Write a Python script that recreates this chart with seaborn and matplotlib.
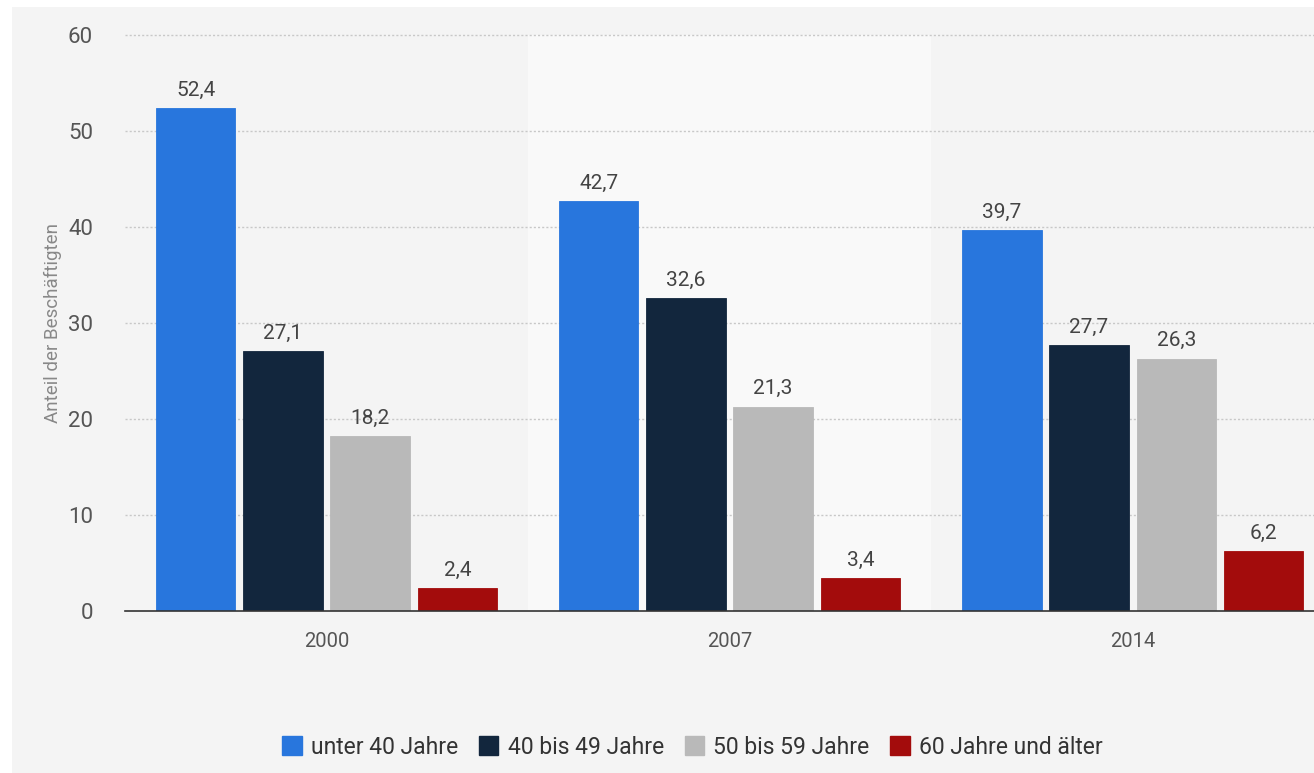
import matplotlib
matplotlib.use("Agg")
import matplotlib.pyplot as plt
import seaborn as sns
import pandas as pd
from matplotlib.patches import Rectangle

years = ["2000", "2007", "2014"]
groups = ["unter 40 Jahre", "40 bis 49 Jahre", "50 bis 59 Jahre", "60 Jahre und älter"]
unter40 = [52.4, 42.7, 39.7]
j40_49 = [27.1, 32.6, 27.7]
j50_59 = [18.2, 21.3, 26.3]
ab60 = [2.4, 3.4, 6.2]
colors = ["#2876dd", "#12263d", "#b9b9b9", "#a30c0c"]
y_ticks = [0, 10, 20, 30, 40, 50, 60]

rows = []
for g, vals in zip(groups, [unter40, j40_49, j50_59, ab60]):
    for y, v in zip(years, vals):
        rows.append({"Jahr": y, "Gruppe": g, "Wert": v})
df = pd.DataFrame(rows)

sns.set_theme(style="white")
plt.rcParams['font.family'] = ['Roboto', 'DejaVu Sans']

fig = plt.figure(figsize=(13.14, 7.73), dpi=100, facecolor="white")
fig.patches.append(Rectangle((12/1314, 0), 1, 766/773, transform=fig.transFigure,
                             facecolor="#f4f4f4", edgecolor="none", zorder=-10))
ax = fig.add_axes([125/1314, 1-611/773, 1-125/1314, (611-35)/773])
ax.set_facecolor("none")

sns.barplot(data=df, x="Jahr", y="Wert", hue="Gruppe", order=years, hue_order=groups,
            palette=colors, saturation=1, width=0.865, gap=0.09, ax=ax, legend=False,
            linewidth=0.6, zorder=3)
for cont, c in zip(ax.containers, colors):
    for p in cont:
        p.set_edgecolor(c)
        p.set_alpha(1)
    ax.bar_label(cont, labels=[f"{v:.1f}".replace(".", ",") for v in cont.datavalues],
                 padding=6, fontsize=15, color="#444444")

ax.axvspan(0.5, 1.5, color="#f9f9f9", zorder=0, lw=0)
ax.set_xlim(-0.5, 2.45)
ax.set_ylim(0, 60)
ax.set_yticks(y_ticks)
ax.set_yticklabels([str(t) for t in y_ticks])
for t in y_ticks[1:]:
    ax.axhline(t, color="#c8c8c8", lw=1, ls=(0, (1.5, 1.5)), zorder=1, clip_on=False)
ax.tick_params(axis="y", length=0, pad=23, labelsize=16, labelcolor="#555555")
ax.tick_params(axis="x", length=0, pad=15, labelsize=14.5, labelcolor="#555555")
for s in ["top", "right", "left"]:
    ax.spines[s].set_visible(False)
ax.spines["bottom"].set_color("#333333")
ax.spines["bottom"].set_linewidth(1.2)
ax.spines["bottom"].set_zorder(5)
ax.set_xlabel("")
ax.set_ylabel("Anteil der Beschäftigten", fontsize=13.5, color="#888888", labelpad=4)

handles = [Rectangle((0, 0), 1, 1, facecolor=c, edgecolor=c) for c in colors]
fig.legend(handles, groups, loc="center", bbox_to_anchor=(0.527, 1-747/773), ncol=4,
           frameon=False, fontsize=16.5, handlelength=0.85, handleheight=0.85,
           handletextpad=0.4, columnspacing=0.9, labelcolor="#333333")

fig.savefig("out.png", dpi=100, facecolor="white")
